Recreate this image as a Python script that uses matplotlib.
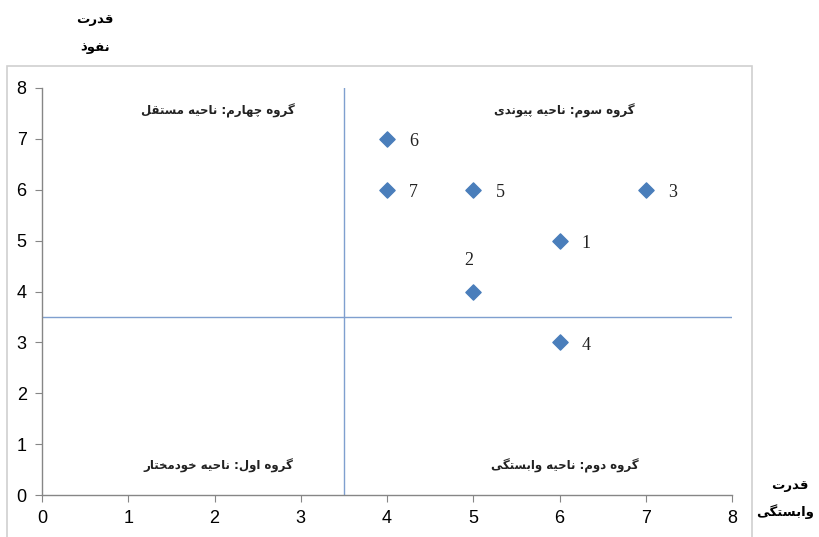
import matplotlib as mpl
mpl.use('Agg')
import matplotlib.pyplot as plt
from matplotlib.patches import Rectangle

# data
dependence = [6, 5, 7, 6, 5, 4, 4]
influence = [5, 4, 6, 3, 6, 7, 6]
point_labels = ['1', '2', '3', '4', '5', '6', '7']
xticks = [0, 1, 2, 3, 4, 5, 6, 7, 8]
yticks = [0, 1, 2, 3, 4, 5, 6, 7, 8]
split = 3.5

quad_texts = ['گروه چهارم: ناحیه مستقل', 'گروه سوم: ناحیه پیوندی',
              'گروه اول: ناحیه خودمختار', 'گروه دوم: ناحیه وابستگی']
quad_pos = [(2.04, 7.56), (6.06, 7.56), (2.04, 0.57), (6.06, 0.57)]
ytitle = ['قدرت', 'نفوذ']
xtitle = ['قدرت', 'وابستگی']

# minimal arabic/persian shaping (matplotlib has no shaping engine)
FORMS = {
    'ا': ('\uFE8D', '\uFE8E', None, None),
    'ب': ('\uFE8F', '\uFE90', '\uFE91', '\uFE92'),
    'پ': ('\uFB56', '\uFB57', '\uFB58', '\uFB59'),
    'ت': ('\uFE95', '\uFE96', '\uFE97', '\uFE98'),
    'ح': ('\uFEA1', '\uFEA2', '\uFEA3', '\uFEA4'),
    'خ': ('\uFEA5', '\uFEA6', '\uFEA7', '\uFEA8'),
    'چ': ('\uFB7A', '\uFB7B', '\uFB7C', '\uFB7D'),
    'د': ('\uFEA9', '\uFEAA', None, None),
    'ذ': ('\uFEAB', '\uFEAC', None, None),
    'ر': ('\uFEAD', '\uFEAE', None, None),
    'س': ('\uFEB1', '\uFEB2', '\uFEB3', '\uFEB4'),
    'ف': ('\uFED1', '\uFED2', '\uFED3', '\uFED4'),
    'ق': ('\uFED5', '\uFED6', '\uFED7', '\uFED8'),
    'گ': ('\uFB92', '\uFB93', '\uFB94', '\uFB95'),
    'ل': ('\uFEDD', '\uFEDE', '\uFEDF', '\uFEE0'),
    'م': ('\uFEE1', '\uFEE2', '\uFEE3', '\uFEE4'),
    'ن': ('\uFEE5', '\uFEE6', '\uFEE7', '\uFEE8'),
    'ه': ('\uFEE9', '\uFEEA', '\uFEEB', '\uFEEC'),
    'و': ('\uFEED', '\uFEEE', None, None),
    'ی': ('\uFBFC', '\uFBFD', '\uFBFE', '\uFBFF'),
}


def shape(s):
    out = []
    for i, c in enumerate(s):
        if c not in FORMS:
            out.append(c)
            continue
        iso, fin, ini, med = FORMS[c]
        prev = s[i - 1] if i > 0 else ''
        nxt = s[i + 1] if i + 1 < len(s) else ''
        jp = prev in FORMS and FORMS[prev][2] is not None
        jn = ini is not None and nxt in FORMS
        if jp and jn:
            out.append(med)
        elif jp:
            out.append(fin)
        elif jn:
            out.append(ini)
        else:
            out.append(iso)
    return ''.join(reversed(out))


fig = plt.figure(figsize=(8.19, 5.37), dpi=100)
fig.patches.append(Rectangle((7 / 819, -0.05), 745 / 819, 1.05 - 66 / 537,
                             transform=fig.transFigure, fill=False,
                             edgecolor='#d0d0d0', linewidth=1.2))

ax = fig.add_axes([42 / 819, 42 / 537, 690 / 819, 407 / 537])
ax.set_xlim(0, 8)
ax.set_ylim(0, 8)
for s in ['top', 'right']:
    ax.spines[s].set_visible(False)
for s in ['left', 'bottom']:
    ax.spines[s].set_color('#868686')
    ax.spines[s].set_linewidth(1.0)
ax.set_xticks(xticks)
ax.set_yticks(yticks)
ax.tick_params(length=5, color='#868686', labelsize=13, pad=6)
for lab in ax.get_xticklabels() + ax.get_yticklabels():
    lab.set_family(['Liberation Sans', 'DejaVu Sans'])

ax.axvline(split, color='#7f9fcf', linewidth=1.0)
ax.axhline(split, color='#7f9fcf', linewidth=1.0)

ax.scatter(dependence, influence, marker='D', s=60, color='#4a7ebb',
           zorder=3, clip_on=False)

for x, y, t in zip(dependence, influence, point_labels):
    off = (-3, 22) if t == '2' else (16, -2)
    ax.annotate(t, (x, y), xytext=off, textcoords='offset points',
                ha='left' if t != '2' else 'center', va='center',
                fontsize=13, family='Liberation Serif', color='#222222')

for t, (x, y) in zip(quad_texts, quad_pos):
    ax.text(x, y, shape(t), ha='center', va='center', fontsize=8.5,
            fontweight='bold', family='DejaVu Sans', color='#222222')

fig.text(95 / 819, 1 - 20 / 537, shape(ytitle[0]), ha='center', va='center',
         fontsize=9.5, fontweight='bold', family='DejaVu Sans')
fig.text(95 / 819, 1 - 47 / 537, shape(ytitle[1]), ha='center', va='center',
         fontsize=9.5, fontweight='bold', family='DejaVu Sans')
fig.text(790 / 819, 1 - 485 / 537, shape(xtitle[0]), ha='center', va='center',
         fontsize=9.5, fontweight='bold', family='DejaVu Sans')
fig.text(814 / 819, 1 - 512 / 537, shape(xtitle[1]), ha='right', va='center',
         fontsize=9.5, fontweight='bold', family='DejaVu Sans')

fig.savefig('out.png', dpi=100)
